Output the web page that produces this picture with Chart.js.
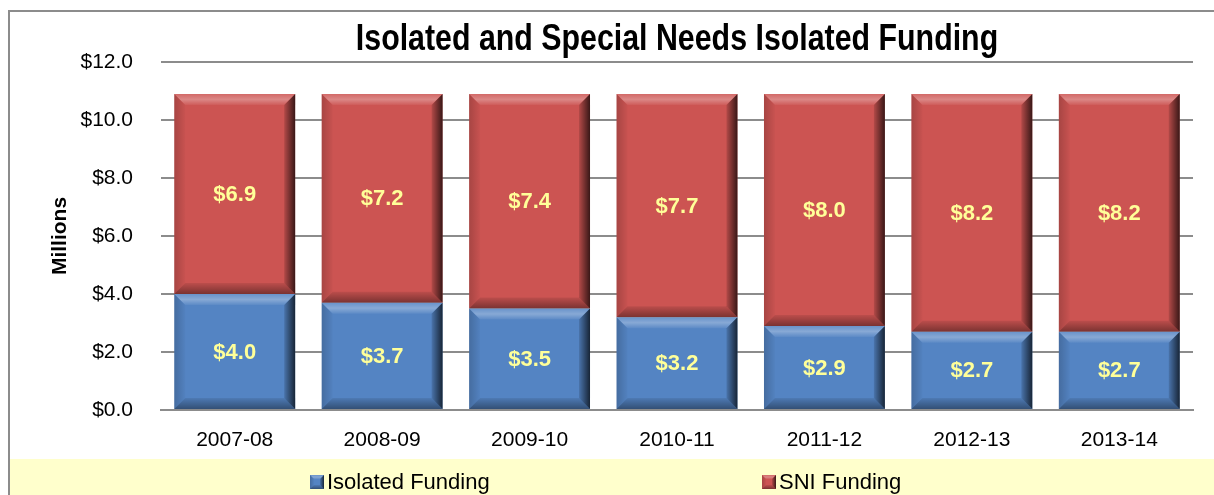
<!DOCTYPE html>
<html>
<head>
<meta charset="utf-8">
<script src="https://cdn.jsdelivr.net/npm/chart.js@4.4.0/dist/chart.umd.min.js"></script>
<style>
  html, body { margin: 0; padding: 0; background: #fff; }
  #wrap { position: relative; width: 1214px; height: 495px; overflow: hidden; }
  #frame { position: absolute; left: 8px; top: 10px; width: 1230px; height: 520px;
           border: 2px solid #8c8c8c; pointer-events: none; box-sizing: border-box; }
</style>
</head>
<body>
<div id="wrap">
  <canvas id="fundingChart" width="1214" height="495"></canvas>
  <div id="frame"></div>
</div>
<script>
// Годы и суммы (млн $)
const years = ["2007-08", "2008-09", "2009-10", "2010-11", "2011-12", "2012-13", "2013-14"];
const isolatedFunding = [4.0, 3.7, 3.5, 3.2, 2.9, 2.7, 2.7];
const sniFunding = [6.9, 7.2, 7.4, 7.7, 8.0, 8.2, 8.2];
const seriesNames = ["Isolated Funding", "SNI Funding"];
const chartTitle = "Isolated and Special Needs Isolated Funding";

const FONT = "'Liberation Sans', Arial, sans-serif";

// Жёлтая полоса под легендой
const bandPlugin = {
    id: 'band',
    beforeDraw(chart) {
        const ctx = chart.ctx;
        ctx.save();
        ctx.fillStyle = '#ffffcc';
        ctx.fillRect(10, 459, chart.width - 10, chart.height - 459);
        ctx.restore();
    }
};

// Заголовок узким шрифтом (сжатие по горизонтали)
const titlePlugin = {
    id: 'narrowTitle',
    afterDraw(chart) {
        const ctx = chart.ctx;
        const a = chart.chartArea;
        ctx.save();
        ctx.translate((a.left + a.right) / 2, 50);
        ctx.scale(0.82, 1);
        ctx.font = 'bold 37px ' + FONT;
        ctx.fillStyle = '#000';
        ctx.textAlign = 'center';
        ctx.textBaseline = 'alphabetic';
        ctx.fillText(chartTitle, 0, 0);
        ctx.restore();
    }
};

// Скошенные края столбцов
function bevel(ctx, l, t, r, b, s) {
    s = Math.min(s, (b - t) / 2, (r - l) / 2);
    // верх
    let g = ctx.createLinearGradient(0, t, 0, t + s);
    g.addColorStop(0, 'rgba(255,255,255,0.12)');
    g.addColorStop(0.5, 'rgba(255,255,255,0.3)');
    g.addColorStop(1, 'rgba(255,255,255,0.05)');
    ctx.fillStyle = g;
    ctx.beginPath();
    ctx.moveTo(l, t); ctx.lineTo(r, t); ctx.lineTo(r - s, t + s); ctx.lineTo(l + s, t + s);
    ctx.closePath(); ctx.fill();
    // лево
    g = ctx.createLinearGradient(l, 0, l + s, 0);
    g.addColorStop(0, 'rgba(0,0,0,0.18)');
    g.addColorStop(1, 'rgba(0,0,0,0.02)');
    ctx.fillStyle = g;
    ctx.beginPath();
    ctx.moveTo(l, t); ctx.lineTo(l + s, t + s); ctx.lineTo(l + s, b - s); ctx.lineTo(l, b);
    ctx.closePath(); ctx.fill();
    // право
    g = ctx.createLinearGradient(r - s, 0, r, 0);
    g.addColorStop(0, 'rgba(0,0,0,0.12)');
    g.addColorStop(1, 'rgba(0,0,0,0.72)');
    ctx.fillStyle = g;
    ctx.beginPath();
    ctx.moveTo(r, t); ctx.lineTo(r, b); ctx.lineTo(r - s, b - s); ctx.lineTo(r - s, t + s);
    ctx.closePath(); ctx.fill();
    // низ
    g = ctx.createLinearGradient(0, b - s, 0, b);
    g.addColorStop(0, 'rgba(0,0,0,0.08)');
    g.addColorStop(1, 'rgba(0,0,0,0.4)');
    ctx.fillStyle = g;
    ctx.beginPath();
    ctx.moveTo(l, b); ctx.lineTo(r, b); ctx.lineTo(r - s, b - s); ctx.lineTo(l + s, b - s);
    ctx.closePath(); ctx.fill();
}

const barDecorPlugin = {
    id: 'barDecor',
    afterDatasetsDraw(chart) {
        const ctx = chart.ctx;
        ctx.save();
        chart.data.datasets.forEach((ds, di) => {
            const meta = chart.getDatasetMeta(di);
            meta.data.forEach((bar, i) => {
                const p = bar.getProps(['x', 'y', 'base', 'width'], true);
                const l = p.x - p.width / 2, r = p.x + p.width / 2;
                const t = Math.min(p.y, p.base), b = Math.max(p.y, p.base);
                bevel(ctx, l, t, r, b, 11);
                // подпись
                ctx.fillStyle = '#ffff99';
                ctx.font = 'bold 22px ' + FONT;
                ctx.textAlign = 'center';
                ctx.textBaseline = 'middle';
                ctx.fillText('$' + ds.data[i].toFixed(1), p.x, (t + b) / 2 + 1);
            });
        });
        ctx.restore();
    }
};

// Легенда внизу (разнесённые элементы)
const legendPlugin = {
    id: 'bottomLegend',
    afterDraw(chart) {
        const ctx = chart.ctx;
        const starts = [310, 762];
        ctx.save();
        ctx.font = '22px ' + FONT;
        ctx.textBaseline = 'middle';
        ctx.textAlign = 'left';
        chart.data.datasets.forEach((ds, i) => {
            const x = starts[i], y = 482;
            ctx.fillStyle = ds.backgroundColor;
            ctx.fillRect(x, y - 7, 14, 14);
            bevel(ctx, x, y - 7, x + 14, y + 7, 4);
            ctx.fillStyle = '#000';
            ctx.fillText(ds.label, x + 17, y + 1);
        });
        ctx.restore();
    }
};

const ctx = document.getElementById('fundingChart').getContext('2d');
new Chart(ctx, {
    type: 'bar',
    data: {
        labels: years,
        datasets: [
            { label: seriesNames[0], data: isolatedFunding, backgroundColor: '#5484c3' },
            { label: seriesNames[1], data: sniFunding, backgroundColor: '#cc5452' }
        ]
    },
    options: {
        responsive: false,
        animation: false,
        devicePixelRatio: 1,
        layout: { padding: { left: 44, right: 21, top: 62, bottom: 41 } },
        datasets: { bar: { categoryPercentage: 1, barPercentage: 0.82 } },
        plugins: {
            legend: { display: false },
            tooltip: { enabled: false },
            title: { display: false }
        },
        scales: {
            x: {
                stacked: true,
                grid: { display: false, drawTicks: false },
                border: { display: true, color: '#8c8c8c', width: 2 },
                ticks: { color: '#000', font: { family: FONT, size: 21 }, padding: 18 },
                afterFit(scale) { scale.height = 44; }
            },
            y: {
                stacked: true,
                min: 0,
                max: 12,
                ticks: {
                    stepSize: 2,
                    color: '#000',
                    font: { family: FONT, size: 21 },
                    padding: 28,
                    callback: v => '$' + Number(v).toFixed(1)
                },
                grid: { color: '#8c8c8c', lineWidth: 2, drawTicks: false },
                border: { display: false },
                title: {
                    display: true,
                    text: 'Millions',
                    color: '#000',
                    font: { family: FONT, size: 21, weight: 'bold' }
                },
                afterFit(scale) { scale.width = 117; }
            }
        }
    },
    plugins: [bandPlugin, barDecorPlugin, legendPlugin, titlePlugin]
});
</script>
</body>
</html>
